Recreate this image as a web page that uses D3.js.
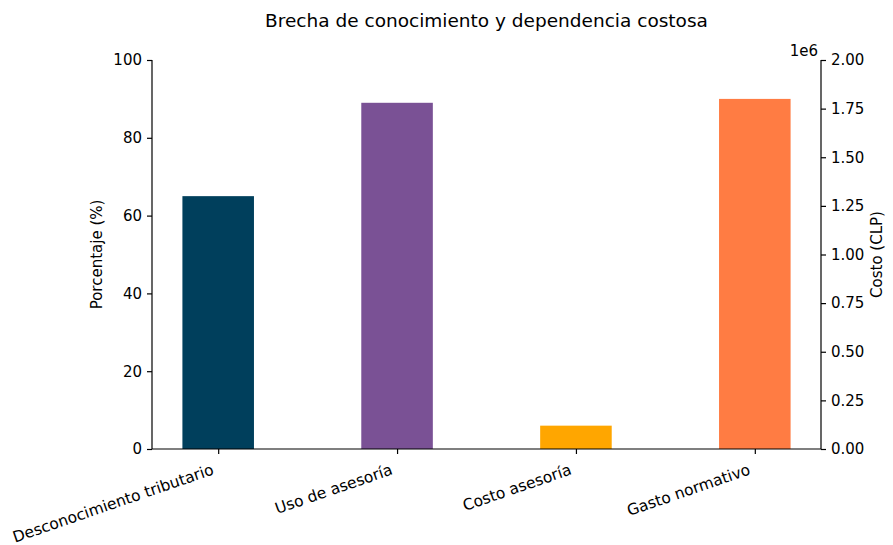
<!DOCTYPE html>
<html>
<head>
<meta charset="utf-8">
<script src="https://cdn.jsdelivr.net/npm/d3@7"></script>
<style>
  body { margin: 0; background: #fff; }
  text { font-family: "DejaVu Sans", sans-serif; fill: #000; }
</style>
</head>
<body>
<div class="chart"></div>
<script>
var width = 893;
var height = 545;

var categories = ["Desconocimiento tributario", "Uso de asesoría", "Costo asesoría", "Gasto normativo"];
var percentValues = [65, 89, null, null];
var costValues = [null, null, 120000, 1800000];
var colors = ["#003f5c", "#7a5195", "#ffa600", "#ff7c43"];
var leftTicks = [0, 20, 40, 60, 80, 100];
var rightTicks = [0, 0.25, 0.5, 0.75, 1.0, 1.25, 1.5, 1.75, 2.0];

var margin = { left: 152, right: 72, top: 60, bottom: 96 };
var x0 = margin.left;
var x1 = width - margin.right;
var y0 = height - margin.bottom;
var y1 = margin.top;

var svg = d3
  .select(".chart")
  .append("svg")
  .attr("width", width)
  .attr("height", height);

// bar positions 0..3, bar width 0.4, 5% margin like matplotlib
var x = d3.scaleLinear().domain([-0.37, 3.37]).range([x0, x1]);
var yLeft = d3.scaleLinear().domain([0, 100]).range([y0, y1]);
var yRight = d3.scaleLinear().domain([0, 2e6]).range([y0, y1]);

var data = categories.map(function (c, i) {
  return { key: c, i: i, pct: percentValues[i], cost: costValues[i] };
});

svg
  .append("g")
  .selectAll("rect")
  .data(data)
  .enter()
  .append("rect")
  .attr("x", function (d) {
    return x(d.i - 0.2);
  })
  .attr("width", function () {
    return x(0.4) - x(0);
  })
  .attr("y", function (d) {
    return d.pct != null ? yLeft(d.pct) : yRight(d.cost);
  })
  .attr("height", function (d) {
    return d.pct != null ? y0 - yLeft(d.pct) : y0 - yRight(d.cost);
  })
  .style("fill", function (_, i) {
    return colors[i];
  });

var left = svg
  .append("g")
  .attr("transform", "translate(" + x0 + ",0)")
  .call(d3.axisLeft(yLeft).tickValues(leftTicks).tickSize(5).tickPadding(5));

var right = svg
  .append("g")
  .attr("transform", "translate(" + x1 + ",0)")
  .call(
    d3
      .axisRight(yRight)
      .tickValues(rightTicks.map(function (v) { return v * 1e6; }))
      .tickFormat(function (v) { return d3.format(".2f")(v / 1e6); })
      .tickSize(5)
      .tickPadding(5)
  );

var bottom = svg
  .append("g")
  .attr("transform", "translate(0," + y0 + ")")
  .call(
    d3
      .axisBottom(x)
      .tickValues([0, 1, 2, 3])
      .tickFormat(function (v) { return categories[v]; })
      .tickSize(5)
  );

[left, right, bottom].forEach(function (g) {
  g.select(".domain").attr("stroke", "#000").attr("stroke-width", 1.2);
  g.selectAll(".tick line").attr("stroke", "#000").attr("stroke-width", 1.2);
  g.selectAll(".tick text").style("font-size", "15px").attr("fill", "#000");
});
bottom.select(".domain").attr("d", "M" + x0 + ",0H" + x1);
left.select(".domain").attr("d", "M0," + y0 + "V" + y1);
right.select(".domain").attr("d", "M0," + y0 + "V" + y1);

bottom
  .selectAll(".tick text")
  .style("font-size", "15.5px")
  .attr("text-anchor", "end")
  .attr("dy", "0")
  .attr("y", 0)
  .attr("transform", "translate(-4,25) rotate(-19)");

svg
  .append("text")
  .attr("x", (x0 + x1) / 2)
  .attr("y", 27)
  .attr("text-anchor", "middle")
  .style("font-size", "18.5px")
  .text("Brecha de conocimiento y dependencia costosa");

svg
  .append("text")
  .attr("transform", "translate(102," + (y0 + y1) / 2 + ") rotate(-90)")
  .attr("text-anchor", "middle")
  .style("font-size", "15px")
  .text("Porcentaje (%)");

svg
  .append("text")
  .attr("transform", "translate(882," + (y0 + y1) / 2 + ") rotate(-90)")
  .attr("text-anchor", "middle")
  .style("font-size", "15px")
  .text("Costo (CLP)");

svg
  .append("text")
  .attr("x", x1 - 3)
  .attr("y", 56)
  .attr("text-anchor", "end")
  .style("font-size", "15px")
  .text("1e6");
</script>
</body>
</html>
